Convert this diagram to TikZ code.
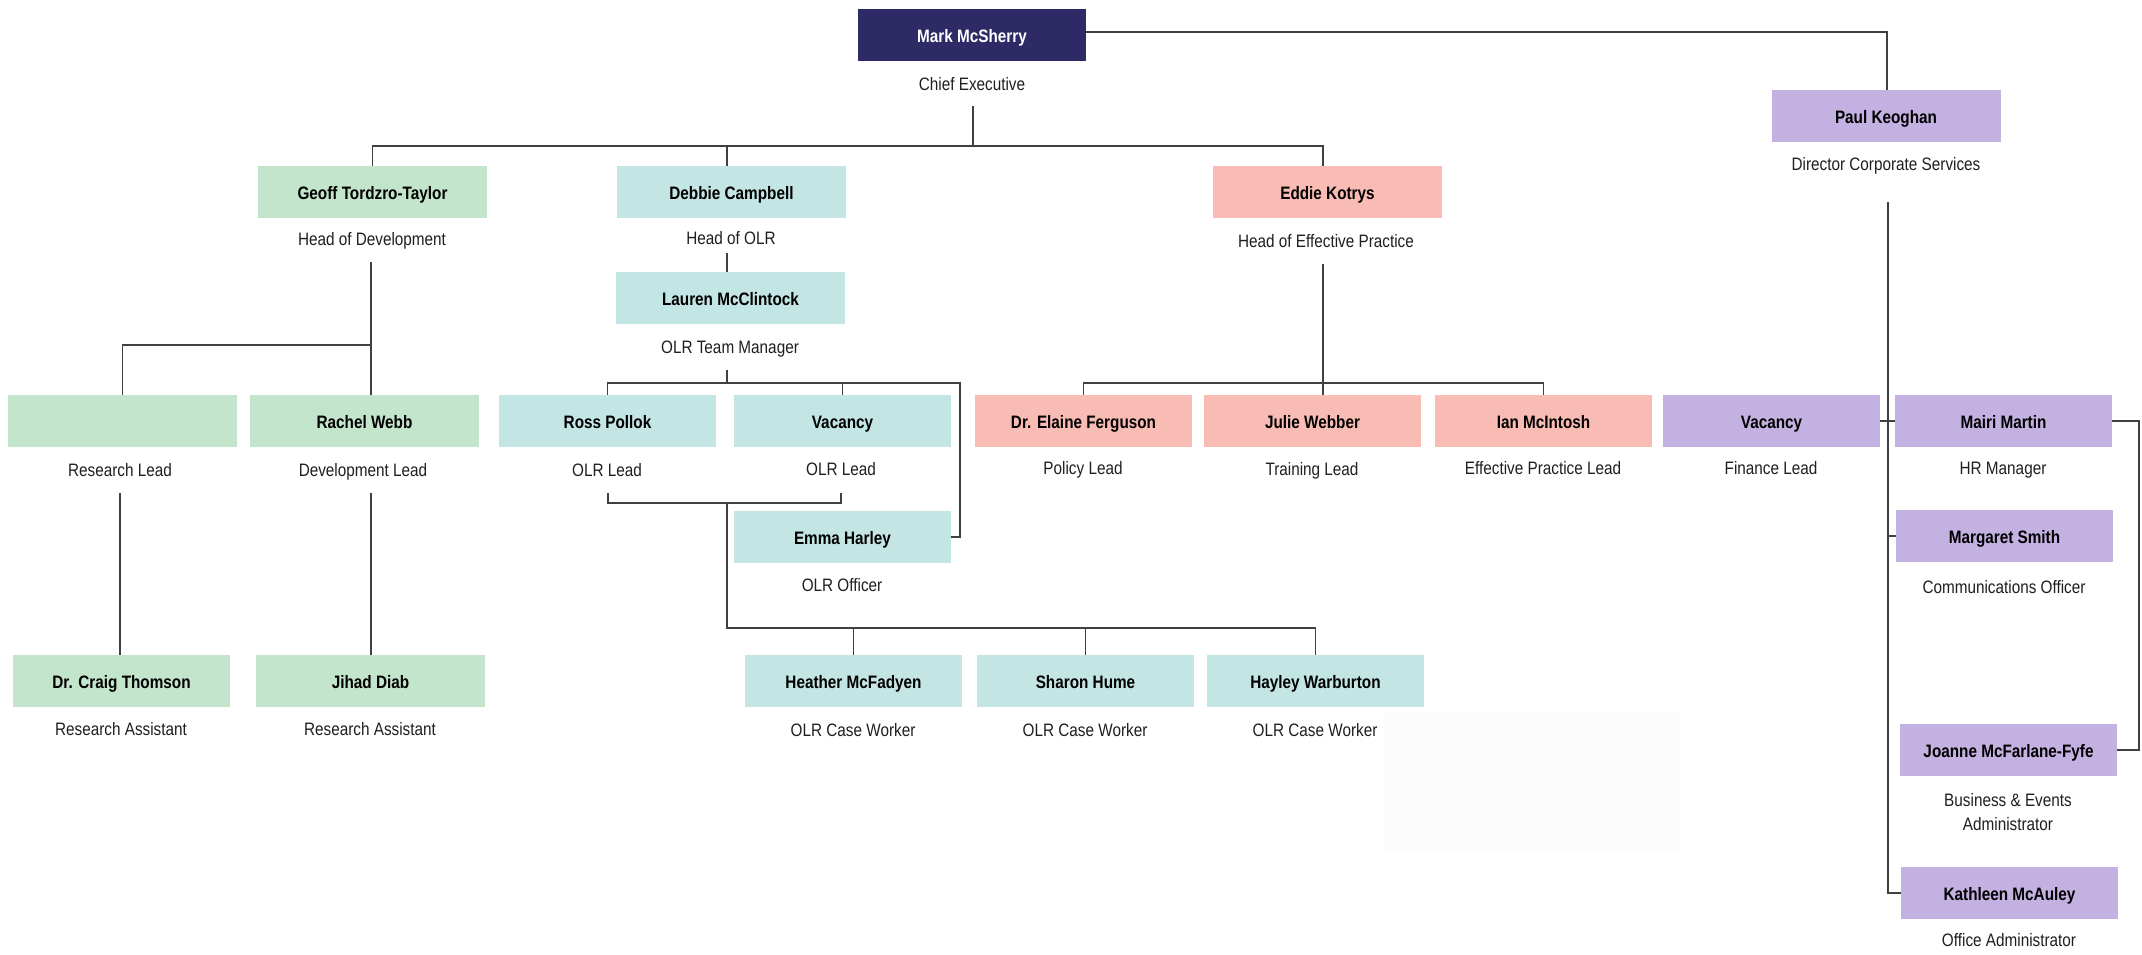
\documentclass[tikz,border=0pt]{standalone}
\usepackage{fontspec}
\setmainfont{Liberation Sans}[FakeStretch=0.85]
\definecolor{cNavy}{HTML}{2D2A66}
\definecolor{cGreen}{HTML}{C3E5CB}
\definecolor{cTeal}{HTML}{C3E5E3}
\definecolor{cSalmon}{HTML}{F9BCB5}
\definecolor{cLav}{HTML}{C3B1E1}
\definecolor{cFaint}{HTML}{FCFCFC}
\begin{document}
\begin{tikzpicture}[x=1pt,y=-1pt,
  box/.style={rectangle, draw=none, minimum height=52pt, minimum width=217pt, inner sep=0pt,
    text height=16.5pt, text depth=2pt, font=\fontsize{18}{22}\selectfont\bfseries, text=black},
  wide/.style={minimum width=229pt},
  ttl/.style={inner sep=0pt, align=center, text height=15pt, text depth=2pt,
    font=\fontsize{18}{24}\selectfont, text=black!88},
  ttltwo/.style={inner sep=0pt, align=center,
    font=\fontsize{18}{24}\selectfont, text=black!88},
  conn/.style={draw=black!75, line width=1.5pt}]
\fill[white] (0,0) rectangle (2142,954);
\useasboundingbox (0,0) rectangle (2142,954);
\fill[cFaint] (1385,713) rectangle (1679,851);

% top
\node[box, fill=cNavy, text=white, minimum width=228pt] (mark) at (972,35) {Mark McSherry};
\node[ttl] (markT) at (972,84) {Chief Executive};
\node[box, fill=cLav, wide] (paul) at (1886,116) {Paul Keoghan};
\node[ttl] (paulT) at (1886,164) {Director Corporate Services};

% second level
\node[box, fill=cGreen, wide] (geoff) at (372.5,192) {Geoff Tordzro-Taylor};
\node[ttl] (geoffT) at (372,239) {Head of Development};
\node[box, fill=cTeal, wide] (debbie) at (731.5,192) {Debbie Campbell};
\node[ttl] (debbieT) at (731,238) {Head of OLR};
\node[box, fill=cSalmon, wide] (eddie) at (1327.5,192) {Eddie Kotrys};
\node[ttl] (eddieT) at (1326,241) {Head of Effective Practice};
\node[box, fill=cTeal, wide] (lauren) at (730.5,298) {Lauren McClintock};
\node[ttl] (laurenT) at (730,347) {OLR Team Manager};

% third row
\node[box, fill=cGreen, wide] (blank) at (122.5,421) {};
\node[ttl] (blankT) at (120,470) {Research Lead};
\node[box, fill=cGreen, wide] (rachel) at (364.5,421) {Rachel Webb};
\node[ttl] (rachelT) at (363,470) {Development Lead};
\node[box, fill=cTeal] (ross) at (607.5,421) {Ross Pollok};
\node[ttl] (rossT) at (607,470) {OLR Lead};
\node[box, fill=cTeal] (vac) at (842.5,421) {Vacancy};
\node[ttl] (vacT) at (841,469) {OLR Lead};
\node[box, fill=cTeal] (emma) at (842.5,537) {Emma Harley};
\node[ttl] (emmaT) at (842,585) {OLR Officer};
\node[box, fill=cSalmon] (elaine) at (1083.5,421) {Dr. Elaine Ferguson};
\node[ttl] (elaineT) at (1083,468) {Policy Lead};
\node[box, fill=cSalmon] (julie) at (1312.5,421) {Julie Webber};
\node[ttl] (julieT) at (1312,469) {Training Lead};
\node[box, fill=cSalmon] (ian) at (1543.5,421) {Ian McIntosh};
\node[ttl] (ianT) at (1543,468) {Effective Practice Lead};
\node[box, fill=cLav] (fin) at (1771.5,421) {Vacancy};
\node[ttl] (finT) at (1771,468) {Finance Lead};
\node[box, fill=cLav] (mairi) at (2003.5,421) {Mairi Martin};
\node[ttl] (mairiT) at (2003,468) {HR Manager};
\node[box, fill=cLav] (margaret) at (2004.5,536) {Margaret Smith};
\node[ttl] (margaretT) at (2004,587) {Communications Officer};
\node[box, fill=cLav] (joanne) at (2008.5,750) {Joanne McFarlane-Fyfe};
\node[ttltwo] (joanneT) at (2008,812) {Business \& Events\\Administrator};
\node[box, fill=cLav] (kath) at (2009.5,893) {Kathleen McAuley};
\node[ttl] (kathT) at (2009,940) {Office Administrator};

% bottom row
\node[box, fill=cGreen] (craig) at (121.5,681) {Dr. Craig Thomson};
\node[ttl] (craigT) at (121,729) {Research Assistant};
\node[box, fill=cGreen, wide] (jihad) at (370.5,681) {Jihad Diab};
\node[ttl] (jihadT) at (370,729) {Research Assistant};
\node[box, fill=cTeal] (heather) at (853.5,681) {Heather McFadyen};
\node[ttl] (heatherT) at (853,730) {OLR Case Worker};
\node[box, fill=cTeal] (sharon) at (1085.5,681) {Sharon Hume};
\node[ttl] (sharonT) at (1085,730) {OLR Case Worker};
\node[box, fill=cTeal] (hayley) at (1315.5,681) {Hayley Warburton};
\node[ttl] (hayleyT) at (1315,730) {OLR Case Worker};

% coordinates
\coordinate (ce1) at (973,106);
\coordinate (ce2) at (973,146);
\coordinate (g1) at (371,262);
\coordinate (g2) at (371,345);
\coordinate (r1) at (120,493);
\coordinate (r2) at (371,493);
\coordinate (d0) at (727,146);
\coordinate (d1) at (727,253);
\coordinate (l1) at (727,370);
\coordinate (l2) at (727,383);
\coordinate (l3) at (960,383);
\coordinate (b1) at (608,493);
\coordinate (b2) at (841,493);
\coordinate (b3) at (727,503);
\coordinate (b4) at (727,628);
\coordinate (e0) at (1323,146);
\coordinate (e1) at (1323,264);
\coordinate (e2) at (1323,383);
\coordinate (p1) at (1888,202);
\coordinate (m1) at (2139,421);
\coordinate (mk) at (1887,32);

% connectors
\draw[conn] ([yshift=3pt]mark.east) -- (mk) -- (mk |- paul.north);
\draw[conn] (ce1) -- (ce2);
\draw[conn] (geoff.north) -- (geoff.north |- ce2) -- (e0) -- (e0 |- eddie.north);
\draw[conn] (d0) -- (d0 |- debbie.north);
\draw[conn] (g1) -- (g1 |- rachel.north);
\draw[conn] (g2) -| (blank.north);
\draw[conn] (r1) -- (r1 |- craig.north);
\draw[conn] (r2) -- (r2 |- jihad.north);
\draw[conn] (d1) -- (d1 |- lauren.north);
\draw[conn] (l1) -- (l2);
\draw[conn] (ross.north) |- (l3) |- (emma.east);
\draw[conn] (vac.north) -- (vac.north |- l2);
\draw[conn] (b1) |- (b2 |- b3) -- (b2);
\draw[conn] (b3) -- (b4) -| (hayley.north);
\draw[conn] (heather.north) -- (heather.north |- b4);
\draw[conn] (sharon.north) -- (sharon.north |- b4);
\draw[conn] (e1) -- (e1 |- julie.north);
\draw[conn] (elaine.north) |- (e2) -| (ian.north);
\draw[conn] (p1) |- (kath.west);
\draw[conn] (fin.east) -- (mairi.west);
\draw[conn] (p1 |- margaret.west) -- (margaret.west);
\draw[conn] (mairi.east) -- (m1) |- (joanne.east);
\end{tikzpicture}
\end{document}
